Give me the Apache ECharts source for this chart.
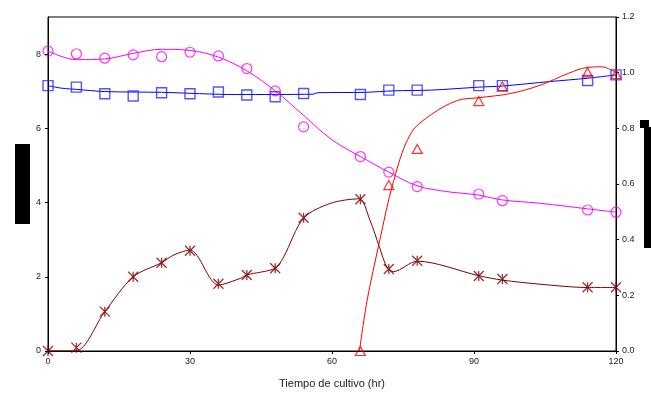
<!DOCTYPE html>
<html>
<head>
<meta charset="utf-8">
<script src="https://cdn.jsdelivr.net/npm/echarts@6/dist/echarts.min.js"></script>
<style>
html,body{margin:0;padding:0;background:#fff;}
#chart{width:651px;height:394px;}
</style>
</head>
<body>
<div id="chart"></div>
<script>
// Sampling times (hr)
const hours = [0, 6, 12, 18, 24, 30, 36, 42, 48, 54, 66, 72, 78, 91, 96, 114, 120];
// Left axis series
const circleVals = [8.08, 8.01, 7.89, 7.98, 7.93, 8.05, 7.95, 7.61, 7.01, 6.04, 5.24, 4.82, 4.43, 4.23, 4.05, 3.80, 3.74];
const squareVals = [7.15, 7.11, 6.93, 6.87, 6.96, 6.93, 6.98, 6.90, 6.85, 6.94, 6.91, 7.03, 7.03, 7.15, 7.15, 7.29, 7.44];
const starVals   = [0, 0.09, 1.06, 2.00, 2.38, 2.70, 1.81, 2.05, 2.23, 3.59, 4.09, 2.21, 2.43, 2.02, 1.94, 1.72, 1.72];
// Right axis series
const triHours = [66, 72, 78, 91, 96, 114, 120];
const triVals  = [0, 0.596, 0.726, 0.898, 0.950, 1.001, 0.995];

// Fitted curves
const circleFitH = [0, 3, 6, 12, 18, 24, 30, 36, 42, 48, 54, 60, 66, 72, 78, 84, 91, 96, 104, 114, 120];
const circleFitV = [8.08, 7.93, 7.85, 7.87, 8.02, 8.13, 8.10, 7.92, 7.55, 7.01, 6.35, 5.69, 5.24, 4.82, 4.45, 4.30, 4.20, 4.07, 3.98, 3.83, 3.74];
const squareFitH = [0, 3, 6, 12, 24, 40, 56, 57, 67, 73, 81, 91, 96, 106, 114, 120];
const squareFitV = [7.15, 7.08, 7.05, 6.99, 6.97, 6.91, 6.92, 6.96, 6.97, 7.01, 7.03, 7.11, 7.14, 7.26, 7.35, 7.44];
const starFitH = [0, 5.8, 12, 18, 24, 26.6, 30, 36, 40.7, 42, 48, 49.8, 54, 59.7, 65.7, 68, 70, 71.7, 73, 78, 91, 96, 104, 114, 120];
const starFitV = [0, 0, 1.06, 2.00, 2.38, 2.59, 2.72, 1.78, 1.96, 2.05, 2.23, 2.54, 3.58, 3.98, 4.10, 3.53, 2.81, 2.23, 2.14, 2.42, 2.03, 1.91, 1.80, 1.71, 1.71];
const triFitH = [65.8, 67.4, 70, 73, 76.6, 81, 86.5, 91, 97.7, 104, 110, 114, 117, 120];
const triFitV = [0, 0.18, 0.39, 0.61, 0.78, 0.85, 0.90, 0.91, 0.925, 0.955, 0.998, 1.019, 1.021, 1.0];

// Tick labels
const xTicks = [0, 30, 60, 90, 120];
const leftTicks = [0, 2, 4, 6, 8];
const rightTicks = ['0.0', '0.2', '0.4', '0.6', '0.8', '1.0', '1.2'];
const xTitle = 'Tiempo de cultivo (hr)';

const zip = (a, b) => a.map((v, i) => [v, b[i]]);
const font = 'Liberation Sans, Arial, sans-serif';
const MAGENTA = '#ff00ff', BLUE = '#0000ff', RED = '#ff0000', DRED = '#800000';
const asterisk = 'path://M0,0L10,10M10,0L0,10M5,0L5,10';

const chart = echarts.init(document.getElementById('chart'), null, {renderer: 'canvas'});
const axisCommon = {
  axisLine: {show: true, lineStyle: {color: '#000', width: 1}},
  axisTick: {show: true, length: 3, lineStyle: {color: '#000'}},
  splitLine: {show: false},
  axisLabel: {color: '#222', fontSize: 9, fontFamily: font}
};
chart.setOption({
  animation: false,
  backgroundColor: '#fff',
  grid: {left: 48, right: 35, top: 17, bottom: 43, show: true, borderColor: '#000', borderWidth: 1, containLabel: false},
  xAxis: Object.assign({}, axisCommon, {
    type: 'value', min: 0, max: 120, interval: 30,
    name: xTitle, nameLocation: 'middle', nameGap: 27,
    nameTextStyle: {color: '#222', fontSize: 11, fontFamily: font},
    axisLabel: Object.assign({}, axisCommon.axisLabel, {margin: 6,
      formatter: v => xTicks.indexOf(v) >= 0 ? String(v) : ''})
  }),
  yAxis: [
    Object.assign({}, axisCommon, {
      type: 'value', min: 0, max: 9, interval: 2, position: 'left',
      axisLabel: Object.assign({}, axisCommon.axisLabel, {margin: 7, showMaxLabel: false,
        formatter: v => leftTicks.indexOf(v) >= 0 ? String(v) : ''})
    }),
    Object.assign({}, axisCommon, {
      type: 'value', min: 0, max: 1.2, interval: 0.2, position: 'right',
      axisLabel: Object.assign({}, axisCommon.axisLabel, {margin: 6,
        formatter: v => rightTicks[Math.round(v / 0.2)] || ''})
    })
  ],
  series: [
    {type: 'line', data: zip(squareFitH, squareFitV), smooth: 0.3, showSymbol: false, symbol: 'none',
     lineStyle: {color: BLUE, width: 1}, yAxisIndex: 0, z: 2},
    {type: 'line', data: zip(circleFitH, circleFitV), smooth: 0.35, showSymbol: false, symbol: 'none',
     lineStyle: {color: MAGENTA, width: 1}, yAxisIndex: 0, z: 2},
    {type: 'line', data: zip(starFitH, starFitV), smooth: 0.3, showSymbol: false, symbol: 'none',
     lineStyle: {color: DRED, width: 1}, yAxisIndex: 0, z: 2},
    {type: 'line', data: zip(triFitH, triFitV), smooth: 0.35, showSymbol: false, symbol: 'none',
     lineStyle: {color: RED, width: 1}, yAxisIndex: 1, z: 2},
    {type: 'scatter', data: zip(hours, squareVals), symbol: 'rect', symbolSize: 10, yAxisIndex: 0, z: 3,
     itemStyle: {color: 'none', borderColor: '#2a2aff', borderWidth: 1.4}},
    {type: 'scatter', data: zip(hours, circleVals), symbol: 'circle', symbolSize: 10, yAxisIndex: 0, z: 3,
     itemStyle: {color: 'none', borderColor: MAGENTA, borderWidth: 1.2}},
    {type: 'scatter', data: zip(hours, starVals), symbol: asterisk, symbolSize: 10, yAxisIndex: 0, z: 3,
     itemStyle: {color: 'none', borderColor: DRED, borderWidth: 1.3}},
    {type: 'scatter', data: zip(triHours, triVals), symbol: 'triangle', symbolSize: [10, 9], yAxisIndex: 1, z: 3,
     itemStyle: {color: 'none', borderColor: RED, borderWidth: 1.2}}
  ],
  graphic: [
    {type: 'rect', shape: {x: 15, y: 144, width: 15, height: 80}, style: {fill: '#000'}},
    {type: 'rect', shape: {x: 640, y: 120, width: 9, height: 8}, style: {fill: '#000'}},
    {type: 'rect', shape: {x: 644, y: 127, width: 7, height: 121}, style: {fill: '#000'}}
  ]
});
</script>
</body>
</html>
